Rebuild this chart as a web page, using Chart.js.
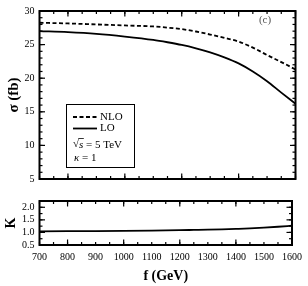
<!DOCTYPE html>
<html>
<head>
<meta charset="utf-8">
<script src="https://cdn.jsdelivr.net/npm/chart.js@4"></script>
<style>
  html, body { margin: 0; padding: 0; background: #fff; }
  #wrap { position: relative; width: 308px; height: 286px; }
  canvas { position: absolute; left: 0; }
  #top { top: 0; }
  #bottom { top: 190px; }
</style>
</head>
<body>
<div id="wrap">
  <canvas id="top" width="308" height="190"></canvas>
  <canvas id="bottom" width="308" height="96"></canvas>
</div>
<script>
// values
const masses = [700, 800, 900, 1000, 1100, 1150, 1200, 1250, 1300, 1350, 1400, 1450, 1500, 1550, 1600];
const sigmaNLO = [28.25, 28.15, 28.0, 27.85, 27.7, 27.53, 27.3, 26.95, 26.5, 26.0, 25.45, 24.55, 23.45, 22.4, 21.3];
const sigmaLO = [27.0, 26.85, 26.6, 26.2, 25.7, 25.35, 24.95, 24.45, 23.85, 23.1, 22.2, 21.0, 19.55, 17.85, 16.2];
const kFactor = [1.045, 1.05, 1.055, 1.063, 1.075, 1.082, 1.09, 1.1, 1.11, 1.123, 1.14, 1.16, 1.19, 1.225, 1.27];

const xTickLabels = [700, 800, 900, 1000, 1100, 1200, 1300, 1400, 1500, 1600];
const xMajorTicks = [800, 1000, 1200, 1400, 1600];
const sigmaTicks = [5, 10, 15, 20, 25, 30];
const kTicks = [0.5, 1.0, 1.5, 2.0];

const serif = 'Liberation Serif';

function steps(from, to, step) {
  const out = [];
  for (let v = from; v <= to + 1e-9; v += step) out.push(+v.toFixed(4));
  return out;
}

function points(ys) {
  return masses.map((m, i) => ({ x: m, y: ys[i] }));
}

// frame with inward ticks on all four sides
const framePlugin = {
  id: 'frame',
  afterDatasetsDraw(chart, args, opts) {
    const { ctx, chartArea: a, scales: { x, y } } = chart;
    ctx.save();
    ctx.strokeStyle = '#000';
    ctx.lineWidth = 1.2;
    const line = (x1, y1, x2, y2) => {
      ctx.beginPath(); ctx.moveTo(x1, y1); ctx.lineTo(x2, y2); ctx.stroke();
    };
    const xTicks = (vals, len) => vals.forEach(v => {
      const px = x.getPixelForValue(v);
      line(px, a.bottom, px, a.bottom - len);
      line(px, a.top, px, a.top + len);
    });
    const yTicks = (vals, len) => vals.forEach(v => {
      const py = y.getPixelForValue(v);
      line(a.left, py, a.left + len, py);
      line(a.right, py, a.right - len, py);
    });
    xTicks(opts.xMinor, 3);
    xTicks(opts.xMajor, 5.5);
    yTicks(opts.yMinor, 3);
    yTicks(opts.yMajor, 5.5);
    ctx.lineWidth = 2;
    ctx.strokeRect(a.left, a.top, a.right - a.left, a.bottom - a.top);
    ctx.restore();
  }
};

// legend box with the extra lines, and the panel letter
const notePlugin = {
  id: 'note',
  afterDatasetsDraw(chart) {
    const { ctx } = chart;
    ctx.save();
    ctx.fillStyle = '#fff';
    ctx.fillRect(66, 104, 69, 64);
    ctx.strokeStyle = '#000';
    ctx.lineWidth = 1;
    ctx.strokeRect(66.5, 104.5, 68, 63);

    ctx.font = '11px ' + serif;
    ctx.fillStyle = '#000';
    ctx.textBaseline = 'middle';
    chart.data.datasets.forEach((ds, i) => {
      const yy = 117 + i * 11.5;
      ctx.save();
      ctx.lineWidth = ds.borderWidth;
      ctx.setLineDash(ds.borderDash || []);
      ctx.beginPath(); ctx.moveTo(73, yy); ctx.lineTo(97, yy); ctx.stroke();
      ctx.restore();
      ctx.fillText(ds.label, 100, yy);
    });

    // sqrt(s) = 5 TeV
    let xx = 73;
    ctx.fillText('√', xx, 144);
    xx += ctx.measureText('√').width;
    ctx.font = 'italic 11px ' + serif;
    const sw = ctx.measureText('s').width;
    ctx.fillText('s', xx, 145);
    ctx.lineWidth = 0.8;
    ctx.beginPath(); ctx.moveTo(xx - 0.5, 138.5); ctx.lineTo(xx + sw + 0.5, 138.5); ctx.stroke();
    xx += sw;
    ctx.font = '11px ' + serif;
    ctx.fillText(' = 5 TeV', xx, 145);

    ctx.font = 'italic 11px ' + serif;
    ctx.fillText('κ', 74, 158);
    const kw = ctx.measureText('κ').width;
    ctx.font = '11px ' + serif;
    ctx.fillText(' = 1', 74 + kw, 158);

    ctx.fillStyle = '#555';
    ctx.textAlign = 'center';
    ctx.fillText('(c)', 265, 20);
    ctx.restore();
  }
};

const tickFont = { family: serif, size: 10 };

new Chart(document.getElementById('top'), {
  type: 'line',
  data: {
    datasets: [
      { label: 'NLO', data: points(sigmaNLO), borderColor: '#000', borderWidth: 1.8,
        borderDash: [4, 2.5], pointRadius: 0, cubicInterpolationMode: 'monotone' },
      { label: 'LO', data: points(sigmaLO), borderColor: '#000', borderWidth: 1.8,
        pointRadius: 0, cubicInterpolationMode: 'monotone' }
    ]
  },
  options: {
    responsive: false,
    animation: false,
    devicePixelRatio: 1,
    layout: { padding: { top: 3.5, right: 12.5, bottom: 6.5, left: 0 } },
    plugins: {
      legend: { display: false },
      tooltip: { enabled: false },
      frame: {
        xMajor: xMajorTicks, xMinor: steps(700, 1600, 50),
        yMajor: sigmaTicks, yMinor: steps(5, 30, 1)
      }
    },
    scales: {
      x: { type: 'linear', min: 700, max: 1600, display: false },
      y: {
        type: 'linear', min: 5, max: 30,
        afterFit: s => { s.width = 39.5; },
        afterBuildTicks: s => { s.ticks = sigmaTicks.map(v => ({ value: v })); },
        grid: { display: false, drawTicks: false },
        border: { display: false },
        ticks: { padding: 5, font: tickFont, color: '#000', autoSkip: false },
        title: { display: true, text: 'σ (fb)', color: '#000',
          font: { family: serif, size: 15, weight: 'bold' }, padding: { top: 5, bottom: 0 } }
      }
    }
  },
  plugins: [framePlugin, notePlugin]
});

new Chart(document.getElementById('bottom'), {
  type: 'line',
  data: {
    datasets: [
      { label: 'K', data: points(kFactor), borderColor: '#000', borderWidth: 1.8,
        pointRadius: 0, cubicInterpolationMode: 'monotone' }
    ]
  },
  options: {
    responsive: false,
    animation: false,
    devicePixelRatio: 1,
    layout: { padding: { top: 3.3, right: 12.5, bottom: 0, left: 0 } },
    plugins: {
      legend: { display: false },
      tooltip: { enabled: false },
      frame: {
        xMajor: xMajorTicks, xMinor: steps(700, 1600, 50),
        yMajor: kTicks, yMinor: steps(0.5, 2.25, 0.25)
      }
    },
    scales: {
      x: {
        type: 'linear', min: 700, max: 1600,
        afterFit: s => { s.height = 41; },
        afterBuildTicks: s => { s.ticks = xTickLabels.map(v => ({ value: v })); },
        grid: { display: false, drawTicks: false },
        border: { display: false },
        ticks: { padding: 6, font: tickFont, color: '#000', maxRotation: 0, autoSkip: false,
          callback: v => String(v) },
        title: { display: true, text: 'f (GeV)', color: '#000',
          font: { family: serif, size: 14, weight: 'bold' }, padding: { top: 0, bottom: 1 } }
      },
      y: {
        type: 'linear', min: 0.5, max: 2.25,
        afterFit: s => { s.width = 39.5; },
        afterBuildTicks: s => { s.ticks = kTicks.map(v => ({ value: v })); },
        grid: { display: false, drawTicks: false },
        border: { display: false },
        ticks: { padding: 5, font: tickFont, color: '#000', autoSkip: false,
          callback: v => v.toFixed(1) },
        title: { display: true, text: 'K', color: '#000',
          font: { family: serif, size: 14, weight: 'bold' }, padding: { top: 3, bottom: 0 } }
      }
    }
  },
  plugins: [framePlugin]
});
</script>
</body>
</html>
